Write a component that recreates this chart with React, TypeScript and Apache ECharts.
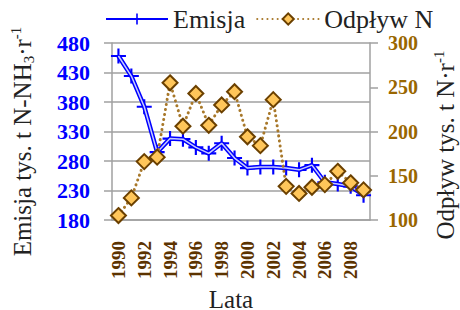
import React, { useEffect, useRef } from "react";
import * as echarts from "echarts";

const years = ["1990","1991","1992","1993","1994","1995","1996","1997","1998","1999","2000","2001","2002","2003","2004","2005","2006","2007","2008","2009"];
const emisja = [458, 424, 372, 295, 318, 317, 303, 293, 310, 285, 268, 270, 270, 268, 265, 273, 244, 241, 237, 222];
const odplyw = [105, 125, 166, 171, 255, 206, 243, 207, 230, 245, 194, 184, 236, 138, 130, 137, 140, 155, 142, 134];
const leftTicks = [180, 230, 280, 330, 380, 430, 480];

const SERIF = "'Liberation Serif', 'Times New Roman', serif";
const plusPath = "path://M6,0h2v6h6v2h-6v6h-2v-6h-6v-2h6z";

export default function App() {
  const ref = useRef<HTMLDivElement>(null);
  useEffect(() => {
    document.body.style.margin = "0";
    if (!ref.current) return;
    const chart = echarts.init(ref.current, null, { renderer: "svg" });
    const nameRich = {
      m: { fontSize: 25, fontFamily: SERIF, color: "#222", lineHeight: 28 },
      s: { fontSize: 15, fontFamily: SERIF, color: "#222", lineHeight: 15, verticalAlign: "bottom" },
      p: { fontSize: 15, fontFamily: SERIF, color: "#222", lineHeight: 15, verticalAlign: "top" },
    };
    chart.setOption({
      animation: false,
      backgroundColor: "#fff",
      legend: {
        left: 105,
        top: 6,
        padding: 0,
        itemWidth: 62,
        itemHeight: 14,
        itemGap: 11,
        data: ["Emisja", "Odpływ N"],
        textStyle: { fontSize: 26, fontFamily: SERIF, color: "#222" },
      },
      grid: { left: 112, right: 90, top: 43, bottom: 90, containLabel: false, outerBoundsMode: "none" },
      xAxis: {
        type: "category",
        data: years,
        boundaryGap: true,
        name: "Lata",
        nameLocation: "middle",
        nameGap: 63,
        nameTextStyle: { fontSize: 25, fontFamily: SERIF, color: "#222", lineHeight: 24, padding: [0, 20, 0, 0] },
        axisLine: { lineStyle: { color: "#A0A0A0", width: 1.5 } },
        axisTick: { interval: 0, alignWithLabel: false, length: 7, lineStyle: { color: "#A0A0A0", width: 1.5 } },
        axisLabel: {
          interval: 1,
          rotate: 90,
          margin: 21,
          fontSize: 19,
          fontWeight: "bold",
          fontFamily: SERIF,
          color: "#5C3300",
        },
      },
      yAxis: [
        {
          type: "value",
          min: 180,
          max: 480,
          position: "left",
          name: "{m|Emisja tys. t N-NH}{s|3}{m|·r}{p|-1}",
          nameLocation: "middle",
          nameRotate: 90,
          nameGap: 76,
          nameTextStyle: { rich: nameRich, padding: [0, 20, 0, 0] },
          axisLine: { show: true, lineStyle: { color: "#A0A0A0", width: 1.5 } },
          axisTick: { show: true, length: 8, customValues: leftTicks, lineStyle: { color: "#A0A0A0", width: 1.5 } },
          splitLine: { show: true, lineStyle: { color: "#A0A0A0", width: 1.5 } },
          axisLabel: {
            customValues: leftTicks,
            margin: 22,
            fontSize: 22,
            fontWeight: "bold",
            fontFamily: SERIF,
            color: "#0000FF",
          },
        },
        {
          type: "value",
          min: 100,
          max: 300,
          interval: 50,
          position: "right",
          name: "{m|Odpływ tys. t N·r}{p|-1}",
          nameLocation: "middle",
          nameRotate: 90,
          nameGap: 61,
          nameTextStyle: { rich: nameRich, padding: [0, 27, 0, 0] },
          axisLine: { show: true, lineStyle: { color: "#A0A0A0", width: 1.5 } },
          axisTick: { show: true, length: 8, lineStyle: { color: "#A0A0A0", width: 1.5 } },
          splitLine: { show: false },
          axisLabel: {
            margin: 18,
            fontSize: 20,
            fontWeight: "bold",
            fontFamily: SERIF,
            color: "#996600",
          },
        },
      ],
      series: [
        {
          name: "Emisja",
          type: "line",
          yAxisIndex: 0,
          data: emisja,
          symbol: plusPath,
          symbolSize: 15,
          showAllSymbol: true,
          itemStyle: { color: "#0000FF" },
          lineStyle: { color: "#0000FF", width: 4.5 },
          z: 2,
        },
        {
          name: "Emisja-inner",
          type: "line",
          yAxisIndex: 0,
          data: emisja,
          symbol: "none",
          silent: true,
          lineStyle: { color: "#C8CCFF", width: 1.5 },
          z: 3,
        },
        {
          name: "Odpływ N",
          type: "line",
          yAxisIndex: 1,
          data: odplyw,
          symbol: "diamond",
          symbolSize: 15,
          showAllSymbol: true,
          itemStyle: { color: "#FFC65A", borderColor: "#6B4000", borderWidth: 2 },
          lineStyle: { color: "#A8782A", width: 3, type: [0.1, 5], cap: "round" },
          z: 5,
        },
      ],
    });
    return () => chart.dispose();
  }, []);
  return <div ref={ref} style={{ width: 460, height: 310 }} />;
}
